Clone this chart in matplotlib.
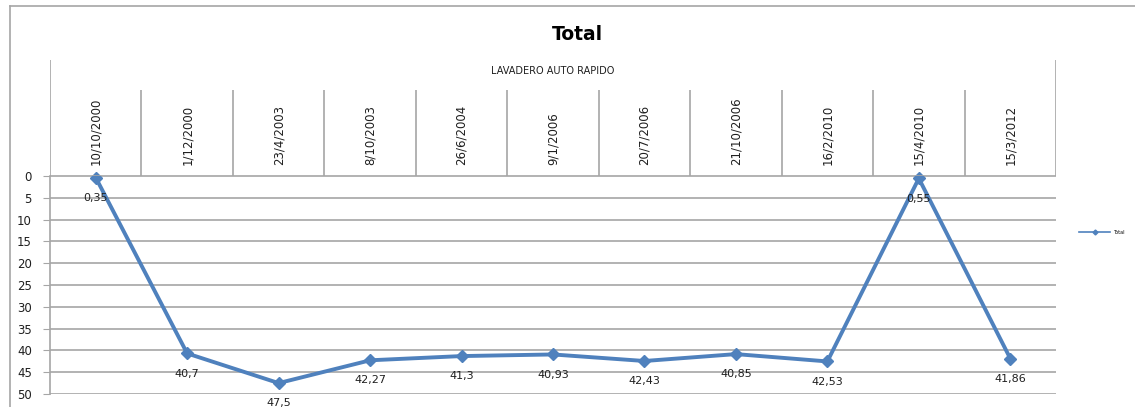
import numpy as np
import matplotlib.pyplot as plt
from matplotlib.lines import Line2D

# Chart data
fechas = ['10/10/2000', '1/12/2000', '23/4/2003', '8/10/2003', '26/6/2004',
          '9/1/2006', '20/7/2006', '21/10/2006', '16/2/2010', '15/4/2010', '15/3/2012']
totales = [0.35, 40.7, 47.5, 42.27, 41.3, 40.93, 42.43, 40.85, 42.53, 0.55, 41.86]
etiquetas = ['0,35', '40,7', '47,5', '42,27', '41,3', '40,93', '42,43', '40,85', '42,53', '0,55', '41,86']
grupo = 'LAVADERO AUTO RAPIDO'
y_ticks = list(range(0, 55, 5))

W, H = 1135, 407
azul = '#4f81bd'
gris = '#a6a6a6'
texto = '#1f1f1f'

fig = plt.figure(figsize=(W / 100, H / 100), dpi=100)


def px_rect(x0, y0, x1, y1):
    # pixel box (top-left origin) -> figure fraction
    return [x0 / W, 1 - y1 / H, (x1 - x0) / W, (y1 - y0) / H]


# chart area border (top and left)
fig.add_artist(Line2D([10 / W, 1], [1 - 6 / H, 1 - 6 / H], color=gris, lw=1.2))
fig.add_artist(Line2D([10 / W, 10 / W], [0, 1 - 6 / H], color=gris, lw=1.2))

fig.text(577 / W, 1 - 35 / H, 'Total', ha='center', va='center',
         fontsize=13.5, fontweight='bold', color='black')

n = len(fechas)
x = np.arange(n)

# main plot area
ax = fig.add_axes(px_rect(50, 176, 1056, 394))
ax.plot(x, totales, color=azul, lw=2.8, marker='D', markersize=6.5, label='Total',
        clip_on=False)
ax.set_xlim(-0.5, n - 0.5)
ax.set_ylim(50, 0)
ax.set_yticks(y_ticks)
ax.set_yticklabels([str(t) for t in y_ticks], fontsize=8.5, color=texto)
ax.tick_params(axis='y', length=5, color=gris, pad=8)
ax.set_xticks([])
for t in y_ticks:
    ax.axhline(t, color=gris, lw=1.2, zorder=0)
for s in ['top', 'right', 'bottom']:
    ax.spines[s].set_visible(False)
ax.spines['left'].set_color(gris)
ax.spines['left'].set_linewidth(1.2)

for xi, yi, lab in zip(x, totales, etiquetas):
    ax.annotate(lab, (xi, yi), xytext=(0, -14.5), textcoords='offset points',
                ha='center', va='center', fontsize=8, color=texto)

# multi-level category header above the plot
hx = fig.add_axes(px_rect(50, 60, 1056, 176))
hx.set_xlim(-0.5, n - 0.5)
hx.set_ylim(176, 60)
hx.axis('off')
hx.vlines([-0.5, n - 0.5], 60, 176, color=gris, lw=1.2)
hx.vlines(np.arange(n - 1) + 0.5, 90, 176, color=gris, lw=1.2)
hx.hlines(176, -0.5, n - 0.5, color=gris, lw=1.2)
hx.text((n - 1) / 2, 71, grupo, ha='center', va='center', fontsize=7, color=texto)
for xi, f in zip(x, fechas):
    hx.text(xi, 165, f, rotation=90, ha='left', va='center', fontsize=8.5, color=texto,
            rotation_mode='anchor')

# legend
lx = fig.add_axes(px_rect(1075, 222, 1135, 242))
lx.axis('off')
lx.set_xlim(0, 60)
lx.set_ylim(0, 1)
lx.plot([4, 35], [0.5, 0.5], color=azul, lw=1.2)
lx.plot([19.5], [0.5], color=azul, marker='D', markersize=2.5)
lx.text(38, 0.5, 'Total', fontsize=3.5, va='center', ha='left', color='black')

fig.savefig('out.png', dpi=100)
